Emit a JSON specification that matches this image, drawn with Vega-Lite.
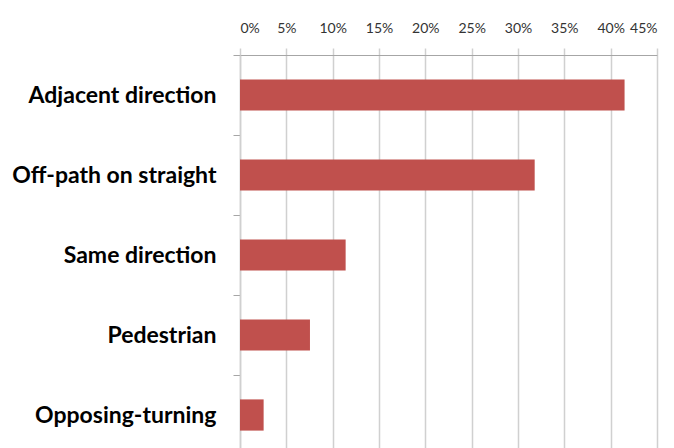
{
  "$schema": "https://vega.github.io/schema/vega-lite/v6.json",
  "width": 417,
  "height": 400,
  "autosize": "none",
  "padding": {"left": 240, "top": 55, "right": 17, "bottom": 0},
  "background": "white",
  "data": {"values": [
    {"category": "Adjacent direction", "share": 0.415},
    {"category": "Off-path on straight", "share": 0.318},
    {"category": "Same direction", "share": 0.114},
    {"category": "Pedestrian", "share": 0.0755},
    {"category": "Opposing-turning", "share": 0.0255}
  ]},
  "config": {"view": {"stroke": null}},
  "mark": {"type": "bar", "color": "#C0504D", "height": {"band": 0.39}},
  "encoding": {
    "y": {
      "field": "category", "type": "nominal", "sort": null,
      "scale": {"paddingInner": 0, "paddingOuter": 0},
      "axis": {
        "title": null, "tickBand": "extent", "tickSize": 7, "tickColor": "#A6A6A6", "tickWidth": 1,
        "domainColor": "#D0D0D0", "domainWidth": 1.5,
        "labelFont": "Lato", "labelFontWeight": "bold", "labelFontSize": 23, "labelColor": "#000000",
        "labelPadding": 17, "labelLimit": 300
      }
    },
    "x": {
      "field": "share", "type": "quantitative",
      "scale": {"domain": [0, 0.45]},
      "axis": {
        "orient": "top", "title": null, "format": ".0%", "values": [0, 0.05, 0.1, 0.15, 0.2, 0.25, 0.3, 0.35, 0.4, 0.45],
        "tickSize": 7, "tickColor": "#D0D0D0", "tickWidth": 1.5,
        "domainColor": "#A6A6A6", "domainWidth": 1,
        "grid": true, "gridColor": "#D0D0D0", "gridWidth": 1.5,
        "labelFont": "Lato", "labelFontSize": 14, "labelColor": "#333333", "labelPadding": 13
      }
    }
  }
}
